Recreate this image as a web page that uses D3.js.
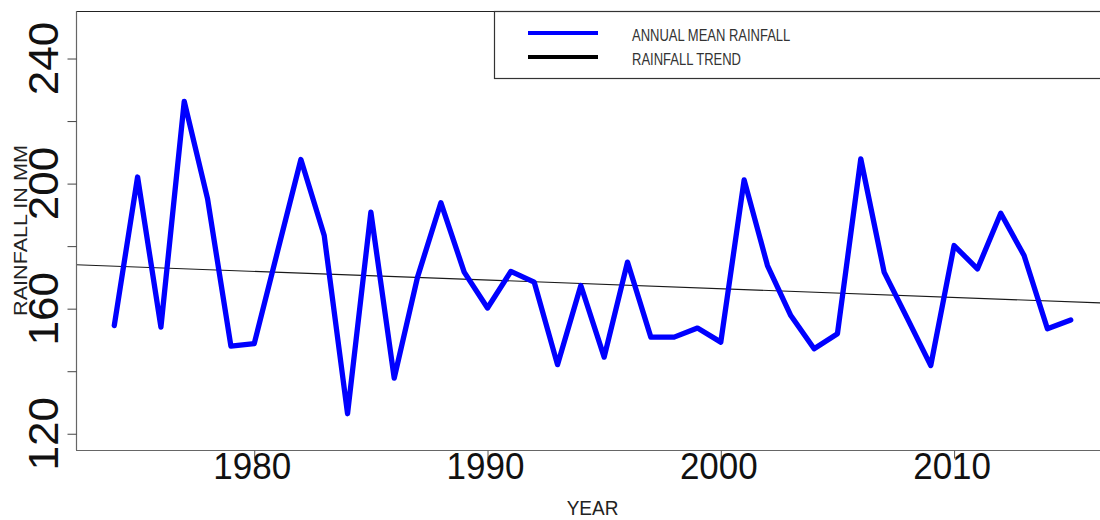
<!DOCTYPE html>
<html>
<head>
<meta charset="utf-8">
<script src="https://cdn.jsdelivr.net/npm/d3@7"></script>
<style>
  html, body { margin: 0; padding: 0; background: #fff; }
  svg { display: block; font-family: "Liberation Sans", Arial, sans-serif; }
</style>
</head>
<body>
<svg id="chart" width="1100" height="520"></svg>
<script>
// ---- Data ----
const years = d3.range(1974, 2016); // 1974 ... 2015
const rainfall = [
  154.6, 202.1, 154.1, 226.3, 195.1, 148.0, 148.8, 178.3, 207.7, 183.4,
  126.4, 190.9, 137.8, 170.1, 193.9, 171.7, 160.2, 171.9, 168.5, 142.1,
  167.4, 144.5, 174.9, 150.9, 150.9, 153.8, 149.3, 201.2, 173.8, 157.8,
  147.2, 152.0, 207.9, 171.7, 156.8, 141.8, 180.2, 172.7, 190.5, 177.0,
  153.6, 156.4
];
const trendYears = [1974, 2015];
const trendValues = [173.6, 162.2];
const yTickValues = [120, 140, 160, 180, 200, 220, 240];
const yLabelValues = [120, 160, 200, 240];
const xTickValues = [1980, 1990, 2000, 2010];
const yLimits = [120, 250];
const legendLabels = ["ANNUAL MEAN RAINFALL", "RAINFALL TREND"];
const seriesColors = ["#0000ff", "#000000"];

// ---- Layout ----
const svg = d3.select("#chart");
const plot = { left: 76, right: 1109, top: 11, bottom: 450 };

const xExt = d3.extent(years);
const xPad = (xExt[1] - xExt[0]) * 0.04;
const yPad = (yLimits[1] - yLimits[0]) * 0.04;

const x = d3.scaleLinear()
  .domain([xExt[0] - xPad, xExt[1] + xPad])
  .range([plot.left, plot.right]);
const y = d3.scaleLinear()
  .domain([yLimits[0] - yPad, yLimits[1] + yPad])
  .range([plot.bottom, plot.top]);

svg.append("defs").append("clipPath").attr("id", "plotclip")
  .append("rect")
  .attr("x", plot.left).attr("y", plot.top)
  .attr("width", plot.right - plot.left)
  .attr("height", plot.bottom - plot.top);

// ---- Trend line (extended across plot, clipped) ----
const trend = d3.scaleLinear().domain(trendYears).range(trendValues);
const xd = x.domain();
svg.append("line")
  .attr("clip-path", "url(#plotclip)")
  .attr("x1", x(xd[0])).attr("y1", y(trend(xd[0])))
  .attr("x2", x(xd[1])).attr("y2", y(trend(xd[1])))
  .attr("stroke", "#1a1a1a").attr("stroke-width", 1.1);

// ---- Rainfall line ----
const line = d3.line()
  .x((d, i) => x(years[i]))
  .y(d => y(d));
svg.append("path")
  .datum(rainfall)
  .attr("d", line)
  .attr("fill", "none")
  .attr("stroke", seriesColors[0])
  .attr("stroke-width", 5.3)
  .attr("stroke-linejoin", "round")
  .attr("stroke-linecap", "round");

// ---- Box (top black, left/bottom gray) ----
svg.append("line")
  .attr("x1", plot.left).attr("x2", plot.right)
  .attr("y1", plot.top + 0.5).attr("y2", plot.top + 0.5)
  .attr("stroke", "#222").attr("stroke-width", 1.2);
svg.append("line")
  .attr("x1", plot.left + 0.5).attr("x2", plot.left + 0.5)
  .attr("y1", plot.top).attr("y2", plot.bottom)
  .attr("stroke", "#666").attr("stroke-width", 1.2);
svg.append("line")
  .attr("x1", plot.left).attr("x2", plot.right)
  .attr("y1", plot.bottom + 0.5).attr("y2", plot.bottom + 0.5)
  .attr("stroke", "#666").attr("stroke-width", 1.2);

// ---- Y axis ----
const yAxis = svg.append("g")
  .attr("transform", `translate(${plot.left + 0.5},0)`)
  .call(d3.axisLeft(y).tickValues(yTickValues).tickSize(9).tickFormat(""));
yAxis.select(".domain").remove();
yAxis.selectAll(".tick line").attr("stroke", "#444").attr("stroke-width", 1);

svg.append("g").selectAll("text")
  .data(yLabelValues)
  .join("text")
  .attr("transform", d => `translate(58,${y(d)}) rotate(-90) scale(1.05,1)`)
  .attr("text-anchor", "middle")
  .attr("font-size", 42)
  .attr("fill", "#111")
  .text(d => d);

// ---- X axis ----
const xAxis = svg.append("g")
  .attr("transform", `translate(0,${plot.bottom + 0.5})`)
  .call(d3.axisBottom(x).tickValues(xTickValues).tickSize(8).tickFormat(""));
xAxis.select(".domain").remove();
xAxis.selectAll(".tick line").attr("stroke", "#555").attr("stroke-width", 1);

svg.append("g").selectAll("text")
  .data(xTickValues)
  .join("text")
  .attr("transform", d => `translate(${x(d) - 2},479) scale(1,1.08)`)
  .attr("text-anchor", "middle")
  .attr("font-size", 35)
  .attr("fill", "#111")
  .text(d => d);

// ---- Axis titles ----
svg.append("text")
  .attr("transform", `translate(${(plot.left + plot.right) / 2},515) scale(1,1.08)`)
  .attr("text-anchor", "middle")
  .attr("font-size", 19)
  .attr("fill", "#222")
  .text("YEAR");

svg.append("text")
  .attr("transform", `translate(27,${(plot.top + plot.bottom) / 2}) rotate(-90) scale(1.2,1)`)
  .attr("text-anchor", "middle")
  .attr("font-size", 18)
  .attr("fill", "#222")
  .text("RAINFALL IN MM");

// ---- Legend ----
const legend = svg.append("g");
legend.append("rect")
  .attr("x", 494.5).attr("y", plot.top + 0.5)
  .attr("width", 700).attr("height", 67)
  .attr("fill", "#fff")
  .attr("stroke", "#333").attr("stroke-width", 1.2);
const legendRows = [33, 57];
legendLabels.forEach((lab, i) => {
  legend.append("line")
    .attr("x1", 528).attr("x2", 598)
    .attr("y1", legendRows[i]).attr("y2", legendRows[i])
    .attr("stroke", seriesColors[i]).attr("stroke-width", 4);
  legend.append("text")
    .attr("transform", `translate(632,${legendRows[i] + 8}) scale(1,1.3)`)
    .attr("font-size", 13)
    .attr("fill", "#333")
    .text(lab);
});
</script>
</body>
</html>
